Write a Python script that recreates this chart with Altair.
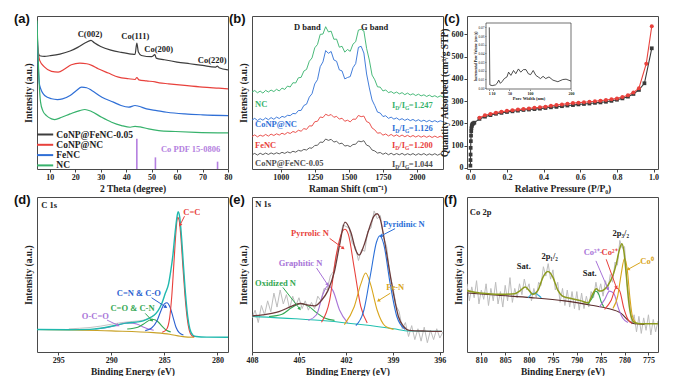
import altair as alt
import pandas as pd

SERIF = "Liberation Serif"
SANS = "Liberation Sans"
INK = "#222222"
W = 191
H1 = 153
H2 = 155

# ---------------- (a) XRD ----------------
XRD_SERIES = ["CoNP@FeNC-0.05", "CoNP@NC", "FeNC", "NC"]
XRD_COLORS = ["#3d3d3d", "#e8413c", "#2f6fd6", "#37b26c"]
xrd_k_x = [5.0, 5.4, 6.05, 8, 10, 14, 18, 21, 24, 26.2, 27.5, 30, 34, 38, 42, 43.5, 44.2, 44.8, 46, 50, 51.3, 51.8, 55, 60, 65, 70, 75, 75.8, 76.5, 80]
xrd_k_y = [85, 77, 74.0, 73.6, 74.0, 75.1, 77.1, 79.5, 82.5, 84.1, 82.5, 80.1, 77.7, 76.2, 75.1, 74.9, 82.3, 76.4, 74.2, 73.4, 74.7, 72.5, 71.4, 69.9, 68.8, 67.7, 66.6, 67.2, 66.2, 64.8]
xrd_r_x = [5.0, 5.4, 6.05, 8, 10.7, 13.3, 16, 18.5, 21.8, 24.5, 26.5, 29, 33, 37, 41, 43.5, 44.2, 45, 48, 51.4, 53, 56.7, 63, 70, 76.4, 80]
xrd_r_y = [90, 78, 71.0, 66.6, 63.8, 63.3, 65.5, 68.1, 69.2, 68.8, 67.7, 65.5, 62.7, 60.0, 59.0, 58.5, 59.8, 58.3, 57.6, 56.9, 56.3, 55.7, 54.6, 53.5, 52.8, 52.4]
xrd_b_x = [5.0, 5.4, 6.05, 8, 10.7, 13, 15, 18, 20.5, 22.5, 24.5, 26.5, 30.5, 35, 38, 41, 43.5, 45, 48, 52, 56, 63, 70, 80]
xrd_b_y = [95, 72, 54.6, 48.0, 45.9, 45.4, 45.8, 48.0, 51.3, 53.5, 53.1, 51.3, 46.9, 43.7, 41.5, 40.4, 41.5, 41.0, 39.3, 38.2, 37.1, 36.0, 35.4, 34.9]
xrd_g_x = [5.0, 5.4, 5.8, 6.4, 7.3, 8.7, 10.7, 12, 14.7, 18, 21.8, 23.8, 26.4, 30.4, 34.3, 38.2, 41.6, 43.5, 45.5, 48.8, 52.8, 59.4, 67.3, 80]
xrd_g_y = [97, 75, 58, 43.7, 38, 34.9, 32.8, 32.3, 33.8, 36.0, 38.2, 38.9, 37.6, 33.8, 30.6, 28.4, 27.3, 27.9, 27.5, 26.2, 25.1, 24.5, 24.0, 23.6]
co_pdf_x = [44.2, 51.5, 75.9]
co_pdf_h = [19.7, 7.6, 4.8]
xrd_lab_t = ["C(002)", "Co(111)", "Co(200)", "Co(220)"]
xrd_lab_x = [25.8, 43.6, 52.8, 73.8]
xrd_lab_y = [88.4, 86.7, 78.6, 71.0]
pdf_lab_t = ["Co PDF 15-0806"]
pdf_lab_x = [65.3]
pdf_lab_y = [12.9]

# ---------------- (b) Raman ----------------
RAMAN_COLORS = ["#37b26c", "#2f6fd6", "#e8413c", "#4d4d4d"]
raman_x = [790, 810, 830, 850, 870, 890, 910, 930, 950, 970, 990, 1010, 1030, 1050, 1070, 1090, 1110, 1130,
           1150, 1170, 1190, 1210, 1230, 1250, 1270, 1290, 1310, 1330, 1350, 1370, 1390, 1410, 1430, 1450,
           1470, 1490, 1510, 1530, 1550, 1570, 1590, 1610, 1630, 1650, 1670, 1690, 1710, 1730, 1750, 1770,
           1790, 1810, 1830, 1850, 1870, 1890, 1910, 1930, 1950, 1970, 1990, 2010, 2030, 2050, 2070, 2090,
           2110, 2130, 2150, 2170, 2190]
raman_nc = [50.2, 51.3, 49.8, 50.9, 49.6, 51.4, 50.3, 51.6, 50.6, 52.1, 51.0, 52.9, 52.0, 54.2, 53.6, 56.4, 56.2, 59.6,
            59.9, 64.0, 65.1, 70.4, 72.6, 79.2, 81.4, 88.0, 88.2, 93.0, 89.6, 90.1, 84.8, 84.9, 79.6, 80.2,
            76.4, 78.1, 76.9, 81.6, 83.2, 90.8, 91.3, 90.2, 78.8, 71.2, 61.4, 58.3, 53.7, 53.5, 51.0, 51.7,
            49.9, 50.6, 49.4, 50.3, 49.1, 49.9, 48.6, 49.6, 48.4, 49.2, 48.0, 48.9, 47.8, 48.5, 47.4, 48.3,
            47.2, 47.9, 46.9, 47.8, 47.1]
raman_conc = [32.0, 33.1, 31.7, 32.9, 31.9, 33.4, 32.2, 33.6, 32.5, 33.9, 33.0, 34.4, 33.8, 35.1, 34.9, 36.3, 36.1, 38.2,
              38.3, 41.5, 42.4, 47.0, 49.2, 55.6, 58.4, 66.9, 70.0, 77.4, 75.6, 76.8, 71.3, 70.4, 64.8, 64.1,
              58.9, 59.8, 60.4, 66.2, 68.9, 79.5, 80.2, 75.8, 62.1, 53.0, 45.1, 41.4, 37.2, 36.6, 34.3, 34.8,
              33.1, 33.9, 32.6, 33.4, 32.1, 32.9, 31.8, 32.7, 31.6, 32.4, 31.3, 32.2, 31.1, 31.9, 30.9, 31.8,
              30.8, 31.6, 30.7, 31.5, 30.9]
raman_fenc = [21.2, 22.3, 21.0, 22.1, 21.4, 22.6, 21.5, 22.8, 21.9, 23.0, 22.2, 23.4, 22.6, 23.9, 23.2, 24.5, 23.9, 25.3,
              24.7, 26.4, 25.9, 28.2, 28.1, 30.9, 31.2, 34.0, 33.6, 35.8, 34.9, 35.6, 33.8, 34.4, 32.6, 33.2,
              31.2, 31.9, 30.8, 32.6, 32.5, 35.0, 34.2, 34.6, 31.0, 30.2, 26.8, 25.6, 23.4, 23.7, 22.1, 22.9,
              21.6, 22.6, 21.4, 22.3, 21.2, 22.2, 21.1, 22.0, 21.0, 21.9, 20.9, 21.8, 20.8, 21.7, 20.7, 21.6,
              20.6, 21.5, 20.6, 21.4, 20.8]
raman_cofe = [9.3, 10.2, 9.1, 10.3, 9.4, 10.4, 9.5, 10.5, 9.7, 10.6, 9.9, 10.9, 10.2, 11.2, 10.5, 11.6, 11.0, 12.2,
              11.7, 12.8, 12.4, 13.8, 13.6, 15.4, 15.5, 17.6, 17.4, 19.6, 18.7, 19.4, 17.6, 18.1, 16.5, 16.9,
              15.0, 15.4, 14.6, 16.0, 16.2, 18.3, 17.8, 18.5, 15.6, 14.9, 12.4, 11.8, 10.4, 10.8, 9.6, 10.5,
              9.3, 10.3, 9.2, 10.1, 9.3, 10.2, 9.1, 10.0, 9.2, 10.1, 9.0, 10.0, 9.2, 10.1, 9.0, 9.9,
              9.1, 10.0, 9.0, 9.9, 9.3]
raman_names = ["NC", "CoNP@NC", "FeNC", "CoNP@FeNC-0.05"]
raman_name_x = [812, 812, 812, 812]
raman_name_y = [42.5, 29.2, 15.8, 3.9]
idig_vals = ["1.247", "1.126", "1.200", "1.044"]
idig_x = [2115, 2115, 2115, 2115]
idig_y = [41.7, 26.6, 15.6, 3.2]
band_t = ["D band", "G band"]
band_x = [1195, 1688]
band_y = [92.9, 92.9]

# ---------------- (c) BET ----------------
ads_x = [0.0005, 0.001, 0.0015, 0.002, 0.003, 0.004, 0.005, 0.006, 0.008, 0.010, 0.013, 0.017, 0.022,
         0.05, 0.08, 0.11, 0.14, 0.17, 0.20, 0.23, 0.26, 0.29, 0.32, 0.35, 0.38, 0.41, 0.44, 0.47, 0.50,
         0.53, 0.56, 0.59, 0.62, 0.65, 0.68, 0.71, 0.74, 0.77, 0.80, 0.83, 0.86, 0.89, 0.92, 0.95, 0.99]
ads_y = [10, 35, 60, 90, 120, 145, 165, 178, 188, 194, 198, 200, 203,
         220, 230, 237, 243, 247, 251, 254, 257, 260, 262, 264, 266, 269, 272, 274, 277,
         280, 282, 285, 287, 289, 292, 294, 297, 301, 306, 312, 320, 332, 350, 380, 537]
des_x = [0.05, 0.08, 0.11, 0.14, 0.17, 0.20, 0.23, 0.26, 0.29, 0.32, 0.35, 0.38, 0.41, 0.44, 0.47, 0.50,
         0.53, 0.56, 0.59, 0.62, 0.65, 0.68, 0.71, 0.74, 0.77, 0.80, 0.83, 0.86, 0.89, 0.92, 0.96, 0.99]
des_y = [225, 236, 242, 248, 252, 256, 259, 262, 264, 267, 270, 272, 275, 279, 282, 285,
         288, 291, 293, 295, 297, 299, 302, 305, 308, 312, 318, 326, 338, 358, 468, 636]
pore_w = [1, 2.4, 8, 16, 20, 24, 28, 32, 37.6, 44, 48, 53.6, 60, 65.6, 72, 77.6, 84, 90.4, 96, 101.6,
          108, 114.4, 120, 125.6, 132, 138.4, 146.4, 156, 168, 180, 188, 200]
pore_v = [0.070, 0.0037, 0.0029, 0.0037, 0.0055, 0.0092, 0.0055, 0.0074, 0.011, 0.0129, 0.0184, 0.0147,
          0.0203, 0.0166, 0.0221, 0.0184, 0.0213, 0.0213, 0.0166, 0.0155, 0.0203, 0.0147, 0.0129, 0.011,
          0.0136, 0.011, 0.0129, 0.0092, 0.0074, 0.0099, 0.0103, 0.0081]

# ---------------- (d) C 1s ----------------
c1s_env_x = [297, 294, 292, 291, 290, 289.3, 288.6, 288, 287.5, 287, 286.5, 286, 285.6, 285.2, 284.9, 284.6,
             284.4, 284.2, 284.0, 283.85, 283.7, 283.55, 283.4, 283.2, 283.0, 282.8, 282.6, 282.3, 282.0, 281, 279]
c1s_env_y = [14.5, 14.4, 14.6, 15.3, 16.6, 17.6, 18.6, 19.0, 19.4, 20.1, 21.5, 23.5, 26.5, 32.0, 38.0, 44.0,
             52.0, 62.0, 76.0, 85.0, 90.5, 87.0, 76.0, 56.0, 37.0, 23.0, 15.0, 10.8, 10.0, 9.6, 9.5]
c1s_raw_x = [294, 293, 292, 291, 290, 289, 288, 287, 286.5, 286]
c1s_raw_y = [14.9, 15.3, 15.8, 16.7, 17.9, 19.0, 19.7, 20.5, 21.8, 23.7]
cc_x = [285.2, 284.8, 284.5, 284.3, 284.1, 283.9, 283.75, 283.6, 283.45, 283.25, 283.05, 282.85, 282.65, 282.4, 282.1]
cc_y = [12.8, 14.5, 22.0, 36.0, 57.0, 78.0, 87.0, 85.0, 75.0, 55.0, 36.0, 22.0, 14.0, 10.5, 9.8]
cn_x = [286.8, 286.2, 285.7, 285.3, 285.0, 284.75, 284.5, 284.2, 283.9, 283.6, 283.2]
cn_y = [13.8, 15.5, 20.0, 27.0, 31.0, 31.8, 29.5, 23.0, 16.0, 12.5, 11.0]
co_x = [288.5, 287.5, 286.8, 286.3, 286.0, 285.6, 285.2, 284.8, 284.4]
co_y = [14.8, 16.0, 18.8, 20.8, 21.0, 19.5, 16.5, 14.0, 13.0]
occ_x = [291.5, 290.5, 289.5, 288.8, 288.3, 287.6, 287.0, 286.5, 286.0]
occ_y = [14.8, 15.6, 17.2, 18.5, 18.8, 18.0, 16.2, 14.8, 14.0]
c1s_bg_x = [297, 290, 286, 284.5, 283.5, 282.8, 282.2]
c1s_bg_y = [14.5, 13.6, 12.5, 11.5, 10.2, 9.6, 9.5]
c1s_lab_t = ["C=C", "C=N & C-O", "C=O & C-N", "O-C=O"]
c1s_lab_x = [282.4, 287.4, 288.0, 291.5]
c1s_lab_y = [90.5, 37.9, 28.1, 23.2]
c1s_lab_c = ["#e8413c", "#2a5fd0", "#33a852", "#a874d8"]
c1s_arr_x1 = [283.1, 286.2, 286.8, 290.4]
c1s_arr_y1 = [87.6, 35.0, 24.9, 20.6]
c1s_arr_x2 = [283.5, 284.9, 286.2, 289.4]
c1s_arr_y2 = [82.2, 29.2, 20.6, 17.3]
c1s_arr_ang = [207, 124, 135, 117]

# ---------------- (e) N 1s ----------------
n1s_env_x = [408.0, 407.33, 406.28, 405.45, 404.92, 404.40, 403.98, 403.56, 403.15, 402.73, 402.41, 402.06, 401.68,
             401.37, 401.16, 400.85, 400.53, 400.22, 400.01, 399.80, 399.59, 399.28, 398.96, 398.65, 398.33,
             397.96, 396.87, 395.87]
n1s_env_y = [23.3, 24.0, 26.0, 29.6, 31.3, 30.2, 29.8, 33.3, 39.6, 52.1, 68.8, 83.75, 77.1, 65.6, 62.5, 68.8,
             79.2, 87.5, 89.2, 85.4, 75.0, 56.3, 37.5, 22.9, 16.7, 14.0, 13.5, 13.3]
n1s_raw_x = [408.0, 407.8, 407.6, 407.4, 407.2, 407.0, 406.8, 406.6, 406.4, 406.2, 406.0, 405.8, 405.6, 405.4,
             405.2, 405.0, 404.8, 404.6, 404.4, 404.2, 404.0, 403.8, 403.6, 403.4, 403.2, 403.0, 402.8, 402.6,
             402.4, 402.2, 402.0, 401.8, 401.6, 401.4, 401.2, 401.0, 400.8, 400.6, 400.4, 400.2, 400.0, 399.8,
             399.6, 399.4, 399.2, 399.0, 398.8, 398.6, 398.4, 398.2, 398.0, 397.8, 397.6, 397.4, 397.2, 397.0,
             396.8, 396.6, 396.4, 396.2, 396.0, 395.8]
n1s_raw_y = [22, 27, 19, 30, 24, 33, 26, 38, 29, 40, 31, 37, 28, 36, 30, 35, 28, 33, 27, 32,
             28, 36, 33, 41, 40, 49, 52, 63, 70, 82, 81, 80, 70, 68, 59, 66, 65, 78, 80, 91,
             86, 88, 74, 68, 50, 42, 30, 26, 15, 19, 10, 17, 8, 15, 7, 16, 6, 14, 8, 15, 9, 13]
n1s_bg_x = [408.0, 405.24, 403.15, 401.05, 398.96, 397.96, 395.87]
n1s_bg_y = [22.9, 21.5, 20.0, 17.7, 15.0, 13.5, 13.3]
oxn_x = [406.91, 406.08, 405.45, 404.92, 404.40, 403.88, 403.36, 402.73]
oxn_y = [22.9, 24.4, 28.75, 31.25, 29.6, 25.4, 21.9, 20.4]
grn_x = [404.40, 403.88, 403.46, 403.15, 402.83, 402.41, 401.89]
grn_y = [20.4, 24.0, 37.5, 42.7, 39.6, 27.1, 18.75]
pyrr_x = [403.56, 403.04, 402.62, 402.21, 402.06, 401.85, 401.47, 401.05, 400.64]
pyrr_y = [19.2, 33.3, 62.5, 78.1, 79.2, 76.0, 54.2, 29.2, 18.75]
fen_x = [402.10, 401.47, 401.05, 400.74, 400.43, 400.01, 399.49, 398.96]
fen_y = [17.7, 29.2, 43.75, 51.0, 43.75, 27.1, 16.7, 14.6]
pyri_x = [401.37, 400.85, 400.43, 400.05, 399.84, 399.59, 399.17, 398.75, 398.23]
pyri_y = [17.1, 27.1, 50.0, 70.8, 75.0, 69.8, 43.75, 22.9, 14.6]
n1s_lab_t = ["Pyrrolic N", "Graphitic N", "Oxidized N", "Pyridinic N", "Fe-N"]
n1s_lab_x = [404.3, 404.9, 406.5, 398.3, 398.85]
n1s_lab_y = [76.5, 57.3, 44.2, 82.9, 42.1]
n1s_lab_c = ["#e8413c", "#a874d8", "#33a852", "#2a6fd8", "#d9a51c"]
n1s_arr_x1 = [403.04, 403.88, 406.03, 398.86, 399.17]
n1s_arr_y1 = [73.3, 54.2, 41.7, 79.6, 37.9]
n1s_arr_x2 = [402.2, 403.19, 404.97, 399.74, 399.9]
n1s_arr_y2 = [67.1, 43.75, 28.1, 75.0, 33.3]
n1s_arr_ang = [127, 147, 142, 242, 238]

# ---------------- (f) Co 2p ----------------
co2p_env_x = [813.13, 811.39, 808.60, 805.81, 803.02, 801.98, 800.79, 799.88, 799.19, 798.14, 797.10, 796.05,
              795.00, 793.96, 792.91, 791.17, 789.08, 787.68, 786.64, 785.94, 785.24, 784.54, 783.50, 782.45,
              781.75, 781.06, 780.57, 780.15, 779.66, 779.17, 778.62, 777.92, 776.53, 773.04]
co2p_env_y = [39.7, 38.5, 37.6, 37.2, 37.6, 39.3, 41.9, 39.3, 37.2, 39.7, 48.2, 52.0,
              48.2, 39.7, 35.9, 34.5, 33.0, 31.7, 37.6, 40.8, 39.3, 39.7, 42.9, 49.3,
              56.7, 66.2, 69.8, 65.1, 50.3, 33.4, 22.8, 19.0, 18.2, 18.2]
co2p_raw_x = [813.0, 812.5, 812.0, 811.5, 811.0, 810.5, 810.0, 809.5, 809.0, 808.5, 808.0, 807.5, 807.0, 806.5,
              806.0, 805.5, 805.0, 804.5, 804.0, 803.5, 803.0, 802.5, 802.0, 801.5, 801.0, 800.5, 800.0, 799.5,
              799.0, 798.5, 798.0, 797.5, 797.0, 796.5, 796.0, 795.5, 795.0, 794.5, 794.0, 793.5, 793.0, 792.5,
              792.0, 791.5, 791.0, 790.5, 790.0, 789.5, 789.0, 788.5, 788.0, 787.5, 787.0, 786.5, 786.0, 785.5,
              785.0, 784.5, 784.0, 783.5, 783.0, 782.5, 782.0, 781.5, 781.0, 780.5, 780.0, 779.5, 779.0, 778.5,
              778.0, 777.5, 777.0, 776.5, 776.0, 775.5, 775.0, 774.5, 774.0, 773.5, 773.0]
co2p_raw_y = [44, 33, 42, 35, 46, 31, 40, 34, 44, 30, 41, 33, 45, 31, 39, 29, 43, 33, 48, 32,
              41, 35, 44, 37, 47, 40, 44, 33, 41, 35, 45, 43, 55, 49, 57, 47, 53, 40, 45, 32,
              41, 30, 40, 29, 39, 28, 39, 27, 38, 28, 36, 29, 39, 35, 45, 37, 44, 36, 46, 40,
              50, 45, 58, 56, 72, 67, 68, 44, 34, 18, 24, 13, 23, 12, 22, 14, 24, 11, 21, 13, 20]
co2p_bg_x = [813.13, 806.51, 799.54, 792.56, 786.98, 783.50, 780.71, 778.96, 777.92, 775.83]
co2p_bg_y = [38.1, 36.6, 35.1, 33.0, 30.2, 28.1, 24.9, 19.7, 18.2, 17.8]
sat1_x = [800.23, 799.4, 798.84, 798.14, 797.44]
sat1_y = [35.0, 37.5, 38.0, 36.8, 35.0]
sat2_x = [787.68, 786.85, 786.08, 785.45, 784.89, 784.33]
sat2_y = [30.9, 34.5, 39.3, 37.6, 32.3, 29.2]
co3_x = [785.24, 784.19, 783.15, 782.24, 781.27, 780.36, 779.31]
co3_y = [29.2, 33.8, 39.3, 37.6, 28.1, 21.8, 19.0]
co2_x = [784.19, 782.8, 781.75, 781.06, 780.15, 779.31, 778.48]
co2_y = [27.5, 33.4, 41.4, 39.7, 28.1, 21.1, 18.6]
co0_x = [782.45, 781.41, 780.71, 780.01, 779.45, 778.90, 778.34, 777.57]
co0_y = [28.1, 36.6, 50.3, 60.5, 53.5, 35.5, 22.8, 18.6]
co2p_lab_t = ["Sat.", "2p\u2081/\u2082", "Sat.", "2p\u2083/\u2082", "Co\u00b3\u207a-", "Co\u00b2\u207a", "Co\u2070"]
co2p_lab_x = [801.1, 795.7, 787.3, 780.8, 786.6, 783.15, 775.3]
co2p_lab_y = [55.6, 62.0, 51.0, 77.0, 64.5, 64.5, 58.8]
co2p_lab_c = [INK, INK, INK, INK, "#a874d8", "#e8413c", "#d9a51c"]
co2p_arr_x1 = [786.0, 783.85, 776.7]
co2p_arr_y1 = [58.8, 59.8, 57.7]
co2p_arr_x2 = [783.5, 781.75, 779.17]
co2p_arr_y2 = [40.8, 41.9, 53.5]
co2p_arr_ang = [157, 161, 241]
co2p_arr_c = ["#a874d8", "#e8413c", "#d9a51c"]

PANEL_LABELS = ["(a)", "(b)", "(c)", "(d)", "(e)", "(f)"]


# ---------------- helpers ----------------
def xaxis(values, title, fmt=None):
    kw = dict(values=values, title=title, labelFont=SERIF, labelFontWeight="bold", labelFontSize=8,
              labelColor=INK, titleFont=SERIF, titleFontWeight="bold", titleFontSize=9.5, titleColor=INK,
              tickSize=3, tickColor="#444", domain=False, grid=False, labelPadding=1, titlePadding=2,
              labelFlush=False)
    if fmt:
        kw["format"] = fmt
    return alt.Axis(**kw)


def ytitle(title, pad=4):
    return alt.Axis(title=title, labels=False, ticks=False, domain=False, grid=False, titleFont=SERIF,
                    titleFontWeight="bold", titleFontSize=9.5, titleColor=INK, titlePadding=pad)


class P:
    def __init__(self, sx, ax, sy, ay):
        self.sx, self.ax, self.sy, self.ay = sx, ax, sy, ay

    def base(self, df, xf="x", yf="y"):
        return alt.Chart(df).encode(x=alt.X(f"{xf}:Q", scale=self.sx, axis=self.ax),
                                    y=alt.Y(f"{yf}:Q", scale=self.sy, axis=self.ay))

    def line(self, xs, ys, color, width=1.1, interp="monotone", opacity=1.0):
        return self.base(pd.DataFrame({"x": xs, "y": ys})).mark_line(
            color=color, strokeWidth=width, interpolate=interp, clip=True, opacity=opacity)

    def texts(self, ts, xs, ys, colors, size=8.5, align="center"):
        df = pd.DataFrame({"x": xs, "y": ys, "t": ts, "c": colors})
        return self.base(df).mark_text(font=SERIF, fontWeight="bold", fontSize=size, align=align,
                                       baseline="middle").encode(text="t:N", color=alt.Color("c:N", scale=None))

    def arrows(self, x1, y1, x2, y2, ang, colors):
        df = pd.DataFrame({"x": x1, "y": y1, "x2": x2, "y2": y2, "a": ang, "c": colors})
        rule = self.base(df).mark_rule(strokeWidth=1).encode(
            x2="x2:Q", y2="y2:Q", color=alt.Color("c:N", scale=None))
        head = self.base(df, "x2", "y2").mark_point(shape="triangle", filled=True, size=14, opacity=1).encode(
            angle=alt.Angle("a:Q", scale=None), color=alt.Color("c:N", scale=None))
        return [rule, head]


def plabel(s):
    return alt.Chart(pd.DataFrame({"t": [s]})).mark_text(
        font=SANS, fontWeight="bold", fontSize=13, align="left", baseline="top", color="#111").encode(
        x=alt.value(-23), y=alt.value(-3), text="t:N")


# ---------------- (a) ----------------
pa_ = P(alt.Scale(domain=[5, 80], nice=False), xaxis([10, 20, 30, 40, 50, 60, 70, 80], "2 Theta (degree)"),
        alt.Scale(domain=[0, 100], nice=False), ytitle("Intensity (a.u.)"))
rows = []
for name, xs, ys in zip(XRD_SERIES, [xrd_k_x, xrd_r_x, xrd_b_x, xrd_g_x], [xrd_k_y, xrd_r_y, xrd_b_y, xrd_g_y]):
    for x, y in zip(xs, ys):
        rows.append({"x": x, "y": y, "s": name})
xrd_df = pd.DataFrame(rows)
xrd_lines = pa_.base(xrd_df).mark_line(strokeWidth=1.2, interpolate="monotone", clip=True).encode(
    color=alt.Color("s:N", scale=alt.Scale(domain=XRD_SERIES, range=XRD_COLORS),
                    legend=alt.Legend(title=None, orient="none", legendX=2.6, legendY=113,
                                      symbolType="M-1.8,0H1.8", symbolStrokeWidth=2, symbolSize=81,
                                      labelFont=SERIF, labelFontWeight="bold", labelFontSize=9.5,
                                      labelColor=INK, rowPadding=0.3, padding=0, labelOffset=5.7)),
    order=alt.Order("x:Q"))
pdf_df = pd.DataFrame({"x": co_pdf_x, "y": [0, 0, 0], "y2": co_pdf_h})
pdf_rules = pa_.base(pdf_df).mark_rule(color="#b47fe0", strokeWidth=1.6).encode(y2="y2:Q")
panel_a = alt.layer(
    xrd_lines, pdf_rules,
    pa_.texts(xrd_lab_t, xrd_lab_x, xrd_lab_y, [INK] * 4, size=8.5),
    pa_.texts(pdf_lab_t, pdf_lab_x, pdf_lab_y, ["#b47fe0"], size=8.5),
    plabel(PANEL_LABELS[0]),
).properties(width=W, height=H1)

# ---------------- (b) ----------------
pb_ = P(alt.Scale(domain=[790, 2190], nice=False),
        xaxis([1000, 1250, 1500, 1750, 2000], "Raman Shift (cm\u207b\u00b9)", fmt="d"),
        alt.Scale(domain=[0, 100], nice=False), ytitle("Intensity (a.u.)"))
b_layers = []
for ys, col in zip([raman_cofe, raman_fenc, raman_conc, raman_nc], RAMAN_COLORS[::-1]):
    b_layers.append(pb_.line(raman_x, ys, col, width=0.9, interp="linear"))
b_layers.append(pb_.texts(raman_names, raman_name_x, raman_name_y, RAMAN_COLORS, size=8.5, align="left"))
b_layers.append(pb_.texts(band_t, band_x, band_y, [INK, INK], size=8.5))
idig_df = pd.DataFrame({"x": idig_x, "y": idig_y, "v": ["=" + v for v in idig_vals], "c": RAMAN_COLORS})
for txt, dx, dy, fs in [("I", -37.5, 0, 8.5), ("D", -33.5, 2.5, 5.5), ("/I", -27.8, 0, 8.5), ("G", -23.5, 2.5, 5.5)]:
    b_layers.append(pb_.base(idig_df).mark_text(font=SERIF, fontWeight="bold", fontSize=fs, align="right",
                                                baseline="middle", dx=dx, dy=dy, text=txt).encode(
        color=alt.Color("c:N", scale=None)))
b_layers.append(pb_.base(idig_df).mark_text(font=SERIF, fontWeight="bold", fontSize=8.5, align="right",
                                            baseline="middle").encode(text="v:N", color=alt.Color("c:N", scale=None)))
b_layers.append(plabel(PANEL_LABELS[1]))
panel_b = alt.layer(*b_layers).properties(width=W, height=H1)

# ---------------- (c) ----------------
pc_ = P(alt.Scale(domain=[-0.018, 1.024], nice=False),
        xaxis([0, 0.2, 0.4, 0.6, 0.8, 1.0], "Relative Pressure (P/P\u2080)", fmt=".1f"),
        alt.Scale(domain=[-5, 682], nice=False),
        alt.Axis(values=[0, 100, 200, 300, 400, 500, 600], title="Quantity Adsorbed (cm\u00b3/g STP)",
                 labelFont=SERIF, labelFontWeight="bold", labelFontSize=8, labelColor=INK, titleFont=SERIF,
                 titleFontWeight="bold", titleFontSize=9.5, titleColor=INK, tickSize=3, tickColor="#444",
                 domain=False, grid=False, labelPadding=1, titlePadding=2))
ads = pc_.base(pd.DataFrame({"x": ads_x, "y": ads_y})).mark_line(
    color="#3a3a3a", strokeWidth=1.1, point=alt.OverlayMarkDef(shape="square", size=14, filled=True, color="#3a3a3a"))
des = pc_.base(pd.DataFrame({"x": des_x, "y": des_y})).mark_line(
    color="#e8413c", strokeWidth=1.1, point=alt.OverlayMarkDef(shape="circle", size=16, filled=True, color="#e8413c"))
main_c = alt.layer(ads, des, plabel(PANEL_LABELS[2]))

in_sx = alt.Scale(domain=[-7, 200], range=[19, 104], nice=False)
in_sy = alt.Scale(domain=[-0.001, 0.075], range=[73, 7], nice=False)
in_ax = alt.Axis(orient="bottom", offset=-(H1 - 73), values=[1, 10, 50, 100, 200], labelFontSize=4,
                 labelFont=SERIF, labelFontWeight="bold", labelColor=INK, labelOverlap=False, labelFlush=False,
                 title="Pore Width (nm)", titleFont=SERIF, titleFontWeight="bold", titleFontSize=4.5,
                 titleColor=INK, tickSize=1.5, labelPadding=0.5, titlePadding=0.5, domain=False, grid=False, zindex=1)
in_ay = alt.Axis(orient="left", offset=-19, values=[0, 0.01, 0.02, 0.03, 0.04, 0.05, 0.06, 0.07], format=".2f",
                 labelFontSize=3.5, labelFont=SERIF, labelColor=INK, title="Incremental Pore Volume (cm\u00b3/g)",
                 titleFont=SERIF, titleFontSize=3.5, titleColor=INK, tickSize=1.5, labelPadding=0.5,
                 titlePadding=0.5, domain=False, grid=False, zindex=1)
inset_frame = alt.Chart(pd.DataFrame({"k": [0]})).mark_rect(fill="white", stroke="#333", strokeWidth=0.7).encode(
    x=alt.value(19), x2=alt.value(104), y=alt.value(7), y2=alt.value(73))
inset_line = alt.Chart(pd.DataFrame({"w": pore_w, "v": pore_v})).mark_line(
    color="#222", strokeWidth=0.8).encode(x=alt.X("w:Q", scale=in_sx, axis=in_ax),
                                           y=alt.Y("v:Q", scale=in_sy, axis=in_ay))
inset = alt.layer(inset_frame, inset_line)
panel_c = alt.layer(main_c, inset).resolve_scale(x="independent", y="independent").properties(width=W, height=H1)

# ---------------- (d) ----------------
pd_ = P(alt.Scale(domain=[279, 297], reverse=True, nice=False), xaxis([295, 290, 285, 280], "Binding Energy (eV)"),
        alt.Scale(domain=[0, 100], nice=False), ytitle("Intensity (a.u.)"))
d_layers = [
    pd_.line(c1s_raw_x, c1s_raw_y, "#c4c4c4", width=1.0),
    pd_.line(c1s_bg_x, c1s_bg_y, "#c9a227", width=1.1),
    pd_.line(occ_x, occ_y, "#a874d8"),
    pd_.line(co_x, co_y, "#33a852"),
    pd_.line(cn_x, cn_y, "#2a5fd0"),
    pd_.line(cc_x, cc_y, "#e8413c"),
    pd_.line(c1s_env_x, c1s_env_y, "#1fb8ad", width=1.4),
    pd_.texts(c1s_lab_t, c1s_lab_x, c1s_lab_y, c1s_lab_c),
    pd_.texts(["C 1s"], [296.6], [95], [INK], align="left"),
]
d_layers += pd_.arrows(c1s_arr_x1, c1s_arr_y1, c1s_arr_x2, c1s_arr_y2, c1s_arr_ang, c1s_lab_c)
d_layers.append(plabel(PANEL_LABELS[3]))
panel_d = alt.layer(*d_layers).properties(width=W, height=H2)

# ---------------- (e) ----------------
pe_ = P(alt.Scale(domain=[395.8, 408], reverse=True, nice=False), xaxis([408, 405, 402, 399, 396], "Binding Energy (eV)"),
        alt.Scale(domain=[0, 100], nice=False), ytitle("Intensity (a.u.)"))
e_layers = [
    pe_.line(n1s_raw_x, n1s_raw_y, "#bdbdbd", width=1.0, interp="linear"),
    pe_.line(n1s_bg_x, n1s_bg_y, "#22c0b0", width=1.1),
    pe_.line(oxn_x, oxn_y, "#33a852"),
    pe_.line(grn_x, grn_y, "#a874d8"),
    pe_.line(pyrr_x, pyrr_y, "#e8413c"),
    pe_.line(fen_x, fen_y, "#d9a51c"),
    pe_.line(pyri_x, pyri_y, "#2a6fd8"),
    pe_.line(n1s_env_x, n1s_env_y, "#6b3b3b", width=1.3),
    pe_.texts(n1s_lab_t, n1s_lab_x, n1s_lab_y, n1s_lab_c),
    pe_.texts(["N 1s"], [407.8], [95.4], [INK], align="left"),
]
e_layers += pe_.arrows(n1s_arr_x1, n1s_arr_y1, n1s_arr_x2, n1s_arr_y2, n1s_arr_ang, n1s_lab_c)
e_layers.append(plabel(PANEL_LABELS[4]))
panel_e = alt.layer(*e_layers).properties(width=W, height=H2)

# ---------------- (f) ----------------
pf_ = P(alt.Scale(domain=[773, 813], reverse=True, nice=False),
        xaxis([810, 805, 800, 795, 790, 785, 780, 775], "Binding Energy (eV)"),
        alt.Scale(domain=[0, 100], nice=False), ytitle("Intensity (a.u.)"))
f_layers = [
    pf_.line(co2p_raw_x, co2p_raw_y, "#bdbdbd", width=1.0, interp="linear"),
    pf_.line(co2p_bg_x, co2p_bg_y, "#5b2c2c", width=1.1),
    pf_.line(sat1_x, sat1_y, "#27a9d6"),
    pf_.line(sat2_x, sat2_y, "#33a852"),
    pf_.line(co3_x, co3_y, "#a874d8"),
    pf_.line(co2_x, co2_y, "#e8413c"),
    pf_.line(co0_x, co0_y, "#d9a51c"),
    pf_.line(co2p_env_x, co2p_env_y, "#8c9a1e", width=1.5),
    pf_.texts(co2p_lab_t, co2p_lab_x, co2p_lab_y, co2p_lab_c),
    pf_.texts(["Co 2p"], [812.4], [90.5], [INK], align="left"),
]
f_layers += pf_.arrows(co2p_arr_x1, co2p_arr_y1, co2p_arr_x2, co2p_arr_y2, co2p_arr_ang, co2p_arr_c)
f_layers.append(plabel(PANEL_LABELS[5]))
panel_f = alt.layer(*f_layers).properties(width=W, height=H2)

chart = alt.concat(
    panel_a, panel_b, panel_c, panel_d, panel_e, panel_f,
    columns=3, spacing={"row": 28, "column": 24}, bounds="flush", align="each",
).resolve_scale(color="independent").properties(
    padding={"left": 5, "top": 4, "right": 0, "bottom": 0}
).configure_view(stroke="#4a4a4a", strokeWidth=1)

chart.save("out.html", embed_options={"renderer": "svg", "actions": False})
